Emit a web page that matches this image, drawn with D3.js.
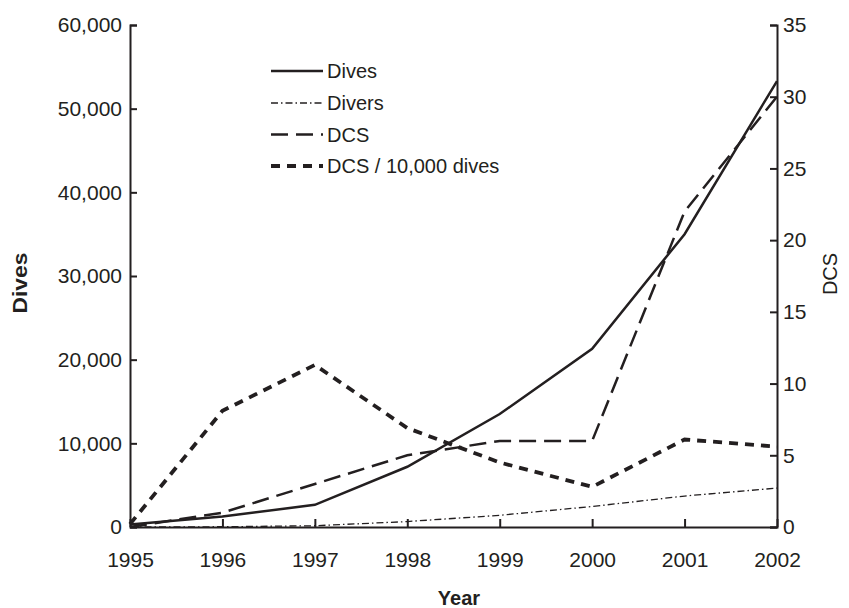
<!DOCTYPE html>
<html><head><meta charset="utf-8">
<script src="https://cdn.jsdelivr.net/npm/d3@7/dist/d3.min.js"></script>
<style>body{margin:0;background:#fff}svg text{font-family:"Liberation Sans",Arial,sans-serif;fill:#231f20}</style>
</head><body><svg id="c" width="849" height="608"></svg>
<script>
const years = [1995,1996,1997,1998,1999,2000,2001,2002];
const dives = [300,1250,2650,7200,13500,21300,35000,53300];
const divers = [0,30,150,650,1400,2450,3700,4650];
const dcs = [0,1,3,5,6,6,22,30];
const dcsPer10k = [0.2,8.1,11.3,6.9,4.5,2.8,6.1,5.6];
const leftTicks = [0,10000,20000,30000,40000,50000,60000];
const rightTicks = [0,5,10,15,20,25,30,35];
const legendLabels = ["Dives","Divers","DCS","DCS / 10,000 dives"];

const ink = "#231f20";
const svg = d3.select("#c");
const L=130,R=777,T=25,B=527;
const x = d3.scaleLinear().domain([1995,2002]).range([L,R]);
const yL = d3.scaleLinear().domain([0,60000]).range([B,T]);
const yR = d3.scaleLinear().domain([0,35]).range([B,T]);
const fs = "21px";

function styleAxis(g){
  g.select(".domain").attr("stroke",ink).attr("stroke-width",2);
  g.selectAll(".tick line").attr("stroke",ink).attr("stroke-width",2);
  g.selectAll(".tick text").style("font-size",fs).attr("fill",ink);
}
svg.append("g").attr("transform",`translate(${L},0)`)
  .call(d3.axisLeft(yL).tickValues(leftTicks).tickFormat(d3.format(",")).tickSizeInner(-7).tickSizeOuter(-7).tickPadding(8))
  .call(styleAxis);
svg.append("g").attr("transform",`translate(${R},0)`)
  .call(d3.axisRight(yR).tickValues(rightTicks).tickSizeInner(-7).tickSizeOuter(-7).tickPadding(6))
  .call(styleAxis);
svg.append("g").attr("transform",`translate(0,${B})`)
  .call(d3.axisBottom(x).tickValues(years).tickFormat(d3.format("d")).tickSizeInner(-8).tickSizeOuter(0).tickPadding(25))
  .call(styleAxis);

svg.append("text").attr("transform","translate(27,283) rotate(-90)").attr("text-anchor","middle")
  .style("font-size","20px").style("font-weight","bold")
  .attr("textLength",61).attr("lengthAdjust","spacingAndGlyphs").text("Dives");
svg.append("text").attr("transform","translate(837,274) rotate(-90)").attr("text-anchor","middle")
  .style("font-size","20px").text("DCS");
svg.append("text").attr("x",459).attr("y",605).attr("text-anchor","middle")
  .style("font-size","20px").style("font-weight","bold").text("Year");

const series = [
  {vals:dives, y:yL, w:2.5, dash:null},
  {vals:divers, y:yL, w:1.3, dash:"7,3,1.5,3"},
  {vals:dcs, y:yR, w:2.5, dash:"17,8"},
  {vals:dcsPer10k, y:yR, w:3.8, dash:"9,7"}
];
series.forEach(s=>{
  const line = d3.line().x((d,i)=>x(years[i])).y(d=>s.y(d));
  svg.append("path").datum(s.vals).attr("d",line).attr("fill","none")
    .attr("stroke",ink).attr("stroke-width",s.w).attr("stroke-dasharray",s.dash);
});

const ly = [71,103,134.5,166];
legendLabels.forEach((lab,i)=>{
  const s = series[i];
  svg.append("line").attr("x1",271).attr("x2",323).attr("y1",ly[i]).attr("y2",ly[i])
    .attr("stroke",ink).attr("stroke-width",s.w).attr("stroke-dasharray",s.dash);
  svg.append("text").attr("x",327).attr("y",ly[i]).attr("dy","0.35em")
    .style("font-size","20px").text(lab);
});
</script></body></html>
